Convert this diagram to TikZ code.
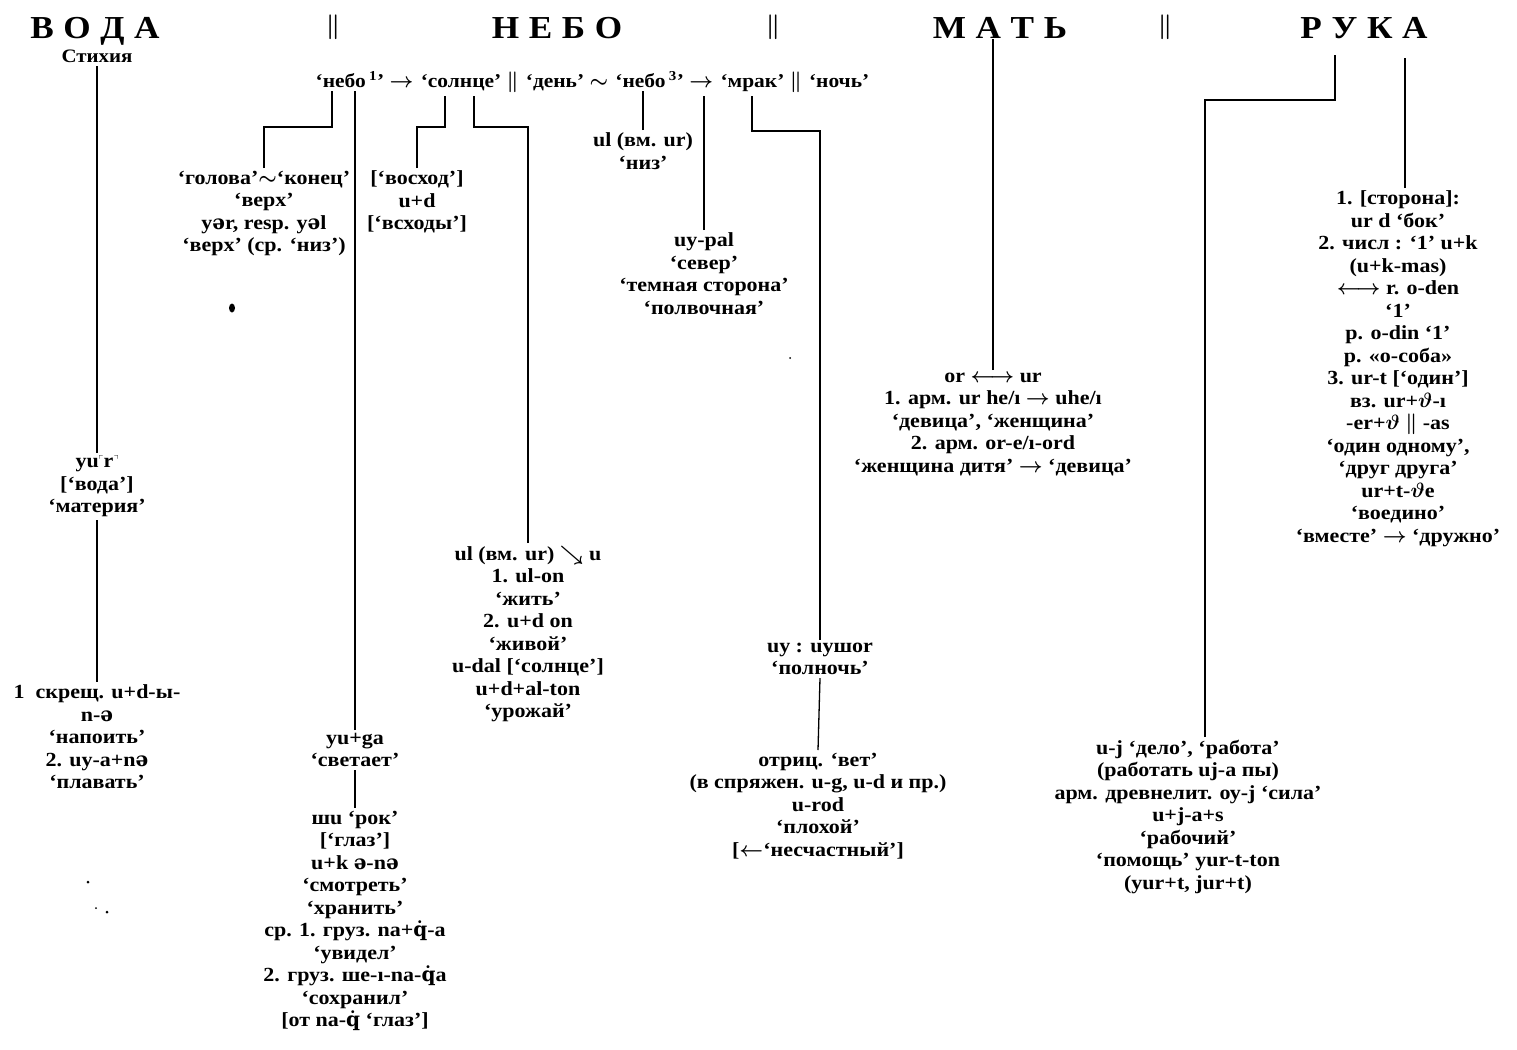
\documentclass[tikz,border=0pt]{standalone}
\usepackage{fontspec}
\usepackage{amssymb}
\setmainfont{Liberation Serif}[FakeStretch=1.1]
\newfontfamily\ipafont{DejaVu Serif}
\usetikzlibrary{positioning}
\newcommand{\sw}{{\ipafont ə}}
\newcommand{\qd}{{\ipafont q̇}}
\newcommand{\lsp}{\hspace{0.3em}}
\newcommand{\crn}[1]{\raisebox{0.55ex}{\fontsize{10}{10}\selectfont$#1$}}

\begin{document}
\begin{tikzpicture}[x=1pt,y=-1pt,line width=1.3pt,
  blk/.style={align=center,anchor=north,inner sep=1pt,outer sep=2pt,
    font=\bfseries\boldmath\fontsize{20}{22.5}\selectfont},
  wrd/.style={inner sep=2pt,font=\bfseries\boldmath\fontsize{19.5}{22.5}\selectfont},
  head/.style={inner sep=0pt,anchor=base,font=\bfseries\fontsize{32}{32}\selectfont},
  bar/.style={inner sep=0pt,font=\boldmath\fontsize{30}{30}\selectfont}]
\useasboundingbox (0,0) rectangle (1517,1049);

% headings
\node[head] (voda) at (95,38) {В\lsp О\lsp Д\lsp А};
\node[font=\bfseries\fontsize{19}{19}\selectfont] (stix) at (97,56) {Стихия};
\node[bar] (bar1) at (333,27) {$\big\|$};
\node[head] (nebo) at (557,38) {Н\lsp Е\lsp Б\lsp О};
\node[bar] (bar2) at (773,27) {$\big\|$};
\node[head] (mat) at (1000,38) {М\lsp А\lsp Т\lsp Ь};
\node[bar] (bar3) at (1165,27) {$\big\|$};
\node[head] (ruka) at (1364,38) {Р\lsp У\lsp К\lsp А};

% row under НЕБО
\node[wrd,anchor=base west] (n1) at (313,88) {`небо\,\textsuperscript{1}' $\rightarrow$};
\node[wrd,base right=2pt of n1] (sol) {`солнце' $\|$};
\node[wrd,base right=2pt of sol] (den) {`день' $\sim$};
\node[wrd,base right=2pt of den] (n3) {`небо\,\textsuperscript{3}' $\rightarrow$};
\node[wrd,base right=2pt of n3] (mrak) {`мрак' $\|$};
\node[wrd,base right=2pt of mrak] (noch) {`ночь'};

% ВОДА
\node[blk] (yur) at (97,453) {yu\crn{\ulcorner}r\crn{\urcorner}\\{}[`вода']\\`материя'};
\node[blk] (skresh) at (97,682) {1\ \ скрещ. u+d-ы-\\n-\sw\\`напоить'\\2. uy-a+n\sw\\`плавать'};

% НЕБО
\node[blk] (golova) at (264,168) {`голова'$\sim$`конец'\\`верх'\\y\sw r, resp. y\sw l\\`верх' (ср. `низ')};
\node[blk] (voshod) at (417,168) {[`восход']\\u+d\\{}[`всходы']};
\node[blk] (niz) at (643,130) {ul (вм. ur)\\`низ'};
\node[blk] (uypal) at (704,230) {uy-pal\\`север'\\`темная сторона'\\`полвочная'};
\node[blk] (kol) at (528,543) {ul (вм. ur) $\searrow$ u\\1. ul-on\\`жить'\\2. u+d on\\`живой'\\u-dal [`солнце']\\u+d+al-ton\\`урожай'};
\node[blk] (uyshor) at (820,640) {uy : uyшor\\`полночь'};
\node[blk] (otric) at (818,750) {отриц. `вет'\\(в спряжен. u-g, u-d и пр.)\\u-rod\\`плохой'\\{}[$\leftarrow$`несчастный']};
\node[blk] (yuga) at (355,730) {yu+ga\\`светает'};
\node[blk] (shu) at (355,808) {шu `рок'\\{}[`глаз']\\u+k \sw-n\sw\\`смотреть'\\`хранить'\\ср. 1. груз. na+\qd-a\\`увидел'\\2. груз. ше-ı-na-\qd a\\`сохранил'\\{}[от na-\qd\ `глаз']};

% МАТЬ
\node[blk] (orur) at (993,370) {or $\longleftrightarrow$ ur\\1. арм. ur he/ı $\rightarrow$ uhe/ı\\`девица', `женщина'\\2. арм. or-e/ı-ord\\`женщина дитя' $\rightarrow$ `девица'};

% РУКА
\node[blk] (side) at (1398,188) {1. [сторона]:\\ur d `бок'\\2. числ : `1' u+k\\(u+k-mas)\\$\longleftrightarrow$ r. o-den\\`1'\\р. o-din `1'\\р. «о-соба»\\3. ur-t [`один']\\вз. ur+$\vartheta$-ı\\-er+$\vartheta$ $\|$ -as\\`один одному',\\`друг друга'\\ur+t-$\vartheta$e\\`воедино'\\`вместе' $\rightarrow$ `дружно'};
\node[blk] (uj) at (1188,737) {u-j `дело', `работа'\\(работать uj-a пы)\\арм. древнелит. оу-j `сила'\\u+j-a+s\\`рабочий'\\`помощь' yur-t-ton\\(yur+t, jur+t)};

% connectors
\draw (stix.south) -- (yur.north);
\draw (yur.south) -- (skresh.north);
\draw (golova.north) |- (332,127) -- (332,0 |- n1.south);
\draw (yuga.north) -- (yuga.north |- n1.south);
\draw (yuga.south) -- (shu.north);
\draw (voshod.north) |- (445,127) -- (445,0 |- sol.south);
\draw (kol.north) |- (474,127) -- (474,0 |- sol.south);
\draw (niz.north) -- (niz.north |- n3.south);
\draw (uypal.north) -- (uypal.north |- mrak.south);
\draw (uyshor.north) |- (752,131) -- (752,0 |- mrak.south);
\draw (uyshor.south) -- (otric.north);
\draw (orur.north) -- (orur.north |- mat.south);
\draw (1205,0 |- uj.north) |- (1335,100) -- (1335,55);
\draw (1405,0 |- side.north) -- (1405,58);

% specks of the print
\fill (232,308) ellipse (3 and 4.5);
\fill (790,358) circle (1);
\fill (88,882) circle (1.5);
\fill (96,908) circle (1);
\fill (107,912) circle (1.5);
\end{tikzpicture}
\end{document}
